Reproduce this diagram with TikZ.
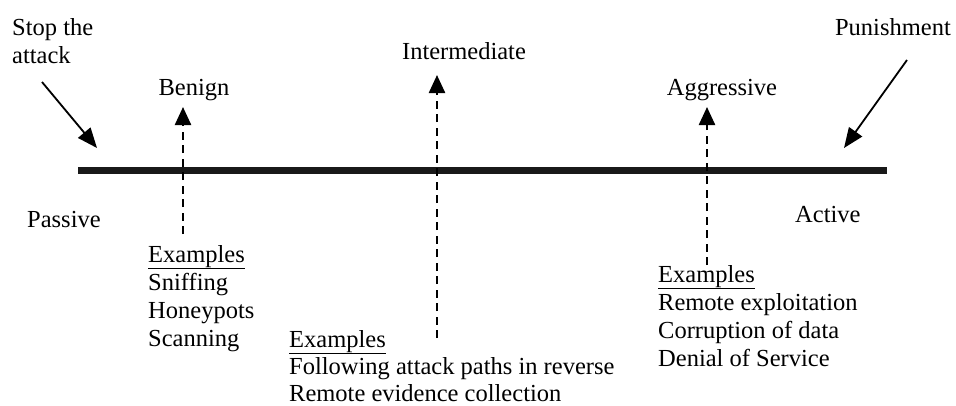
\documentclass[tikz,border=0pt]{standalone}
\usepackage{fontspec}
\setmainfont{Liberation Serif}
\usetikzlibrary{arrows.meta}
\begin{document}
\begin{tikzpicture}[x=1pt,y=-1pt,
  lbl/.style={inner sep=0pt,font=\fontsize{24.5}{28}\selectfont},
  axisline/.style={line width=7pt,draw=black!90},
  solidarrow/.style={line width=1.8pt,-{Triangle[length=20pt,width=16pt]}},
  dasharrow/.style={line width=2.4pt,dash pattern=on 8pt off 5.5pt,-{Triangle[length=18pt,width=16pt]}}]
\useasboundingbox (0,0) rectangle (956,405);
% axis
\coordinate (axL) at (78,170);
\coordinate (axR) at (887,170);
\draw[axisline] (axL) -- (axR);
% top labels
\node[lbl,anchor=base west] (stop1) at (12,35) {Stop the};
\node[lbl,anchor=base west] (stop2) at (12,63) {attack};
\node[lbl,anchor=base] (benign) at (194,95) {Benign};
\node[lbl,anchor=base] (interm) at (464,59) {Intermediate};
\node[lbl,anchor=base] (aggr) at (722,95) {Aggressive};
\node[lbl,anchor=base east] (punish) at (951,35) {Punishment};
\node[lbl,anchor=base west] (passive) at (27,227) {Passive};
\node[lbl,anchor=base west] (active) at (795,222) {Active};
% solid arrows
\coordinate (stopS) at (42,82);
\coordinate (stopT) at (97,148);
\draw[solidarrow] (stopS) -- (stopT);
\coordinate (punS) at (907,60);
\coordinate (punT) at (844,148);
\draw[solidarrow] (punS) -- (punT);
% dashed arrows
\coordinate (benB) at (183,234);
\coordinate (benT) at (183,107);
\draw[dasharrow] (benB) -- (benT);
\coordinate (intB) at (437,338);
\coordinate (intT) at (437,75);
\draw[dasharrow] (intB) -- (intT);
\coordinate (aggB) at (707,265);
\coordinate (aggT) at (707,107);
\draw[dasharrow] (aggB) -- (aggT);
% examples: benign
\node[lbl,anchor=base west] (bex) at (148,262) {\underline{Examples}};
\node[lbl,anchor=base west] (bex1) at (148,290) {Sniffing};
\node[lbl,anchor=base west] (bex2) at (148,318) {Honeypots};
\node[lbl,anchor=base west] (bex3) at (148,346) {Scanning};
% examples: intermediate
\node[lbl,anchor=base west] (iex) at (289,347) {\underline{Examples}};
\node[lbl,anchor=base west] (iex1) at (289,374) {Following attack paths in reverse};
\node[lbl,anchor=base west] (iex2) at (289,401) {Remote evidence collection};
% examples: aggressive
\node[lbl,anchor=base west] (aex) at (658,282) {\underline{Examples}};
\node[lbl,anchor=base west] (aex1) at (658,310) {Remote exploitation};
\node[lbl,anchor=base west] (aex2) at (658,338) {Corruption of data};
\node[lbl,anchor=base west] (aex3) at (658,366) {Denial of Service};
\end{tikzpicture}
\end{document}
